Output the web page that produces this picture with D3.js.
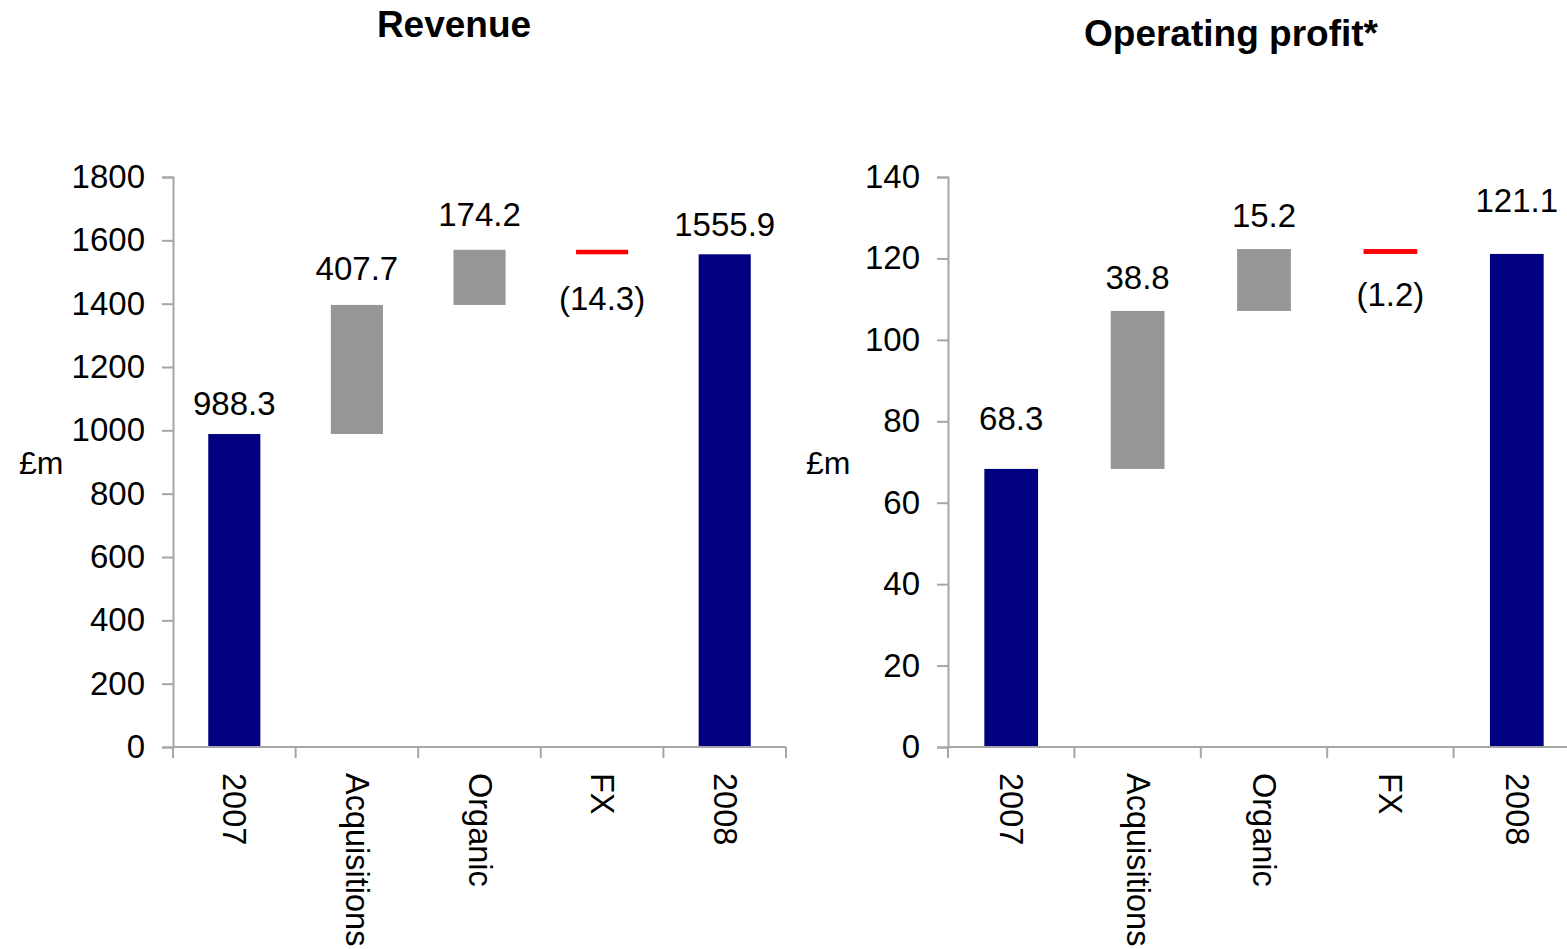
<!DOCTYPE html>
<html>
<head>
<meta charset="utf-8">
<script src="https://cdn.jsdelivr.net/npm/d3@7"></script>
<style>
  html, body { margin: 0; padding: 0; background: #fff; }
  svg { display: block; }
  text { font-family: Arial, "Liberation Sans", Helvetica, sans-serif; fill: #000; }
</style>
</head>
<body>
<svg id="chart" width="1567" height="949"></svg>
<script>
// Bridge categories shared by both panels
const categories = ["2007", "Acquisitions", "Organic", "FX", "2008"];
// "total" bars start at zero, "change" bars float on the running total
const barKinds = ["total", "change", "change", "change", "total"];

// Revenue bridge, £m
const revenueValues = [988.3, 407.7, 174.2, -14.3, 1555.9];
const revenueTicks = [0, 200, 400, 600, 800, 1000, 1200, 1400, 1600, 1800];

// Operating profit bridge, £m
const profitValues = [68.3, 38.8, 15.2, -1.2, 121.1];
const profitTicks = [0, 20, 40, 60, 80, 100, 120, 140];

const svg = d3.select("#chart");
const COLORS = { total: "#000080", up: "#969696", down: "#ff0000", axis: "#a6a6a6" };

function fmt(v) {
  const s = Math.abs(v).toFixed(1);
  return v < 0 ? "(" + s + ")" : s;
}

function drawBridge(opts) {
  const g = svg.append("g");
  const x = d3.scaleBand().domain(categories).range([opts.x0, opts.x1]).padding(0);
  const y = d3.scaleLinear().domain([0, d3.max(opts.ticks)]).range([747, 177]);

  // build floating segments from the running total
  let running = 0;
  const bars = categories.map((c, i) => {
    const v = opts.values[i];
    let lo, hi, kind;
    if (barKinds[i] === "total") {
      lo = 0; hi = v; running = v; kind = "total";
    } else {
      const start = running;
      running = start + v;
      lo = Math.min(start, running); hi = Math.max(start, running);
      kind = v >= 0 ? "up" : "down";
    }
    return { c, v, lo, hi, kind, i };
  });

  // title
  g.append("text")
    .attr("x", opts.titleX).attr("y", opts.titleY)
    .attr("text-anchor", "middle")
    .style("font-size", "37px").style("font-weight", "bold")
    .text(opts.title);

  // bars
  const bw = x.bandwidth() * 0.425;
  g.selectAll("rect.bar").data(bars).enter().append("rect")
    .attr("class", "bar")
    .attr("x", d => x(d.c) + (x.bandwidth() - bw) / 2)
    .attr("width", bw)
    .attr("y", d => y(d.hi))
    .attr("height", d => y(d.lo) - y(d.hi))
    .attr("fill", d => COLORS[d.kind]);

  // value labels: above the bar, or below it for a decrease
  g.selectAll("text.val").data(bars).enter().append("text")
    .attr("class", "val")
    .attr("x", d => x(d.c) + x.bandwidth() / 2)
    .attr("y", d => d.kind === "down" ? y(d.lo) + opts.labelGap[d.i] : y(d.hi) - opts.labelGap[d.i])
    .attr("text-anchor", "middle")
    .style("font-size", "33px")
    .text(d => fmt(d.v));

  // y axis
  const yAxis = d3.axisLeft(y).tickValues(opts.ticks).tickSize(11).tickPadding(17).tickFormat(d3.format("d"));
  const ya = g.append("g").attr("transform", `translate(${opts.x0},0)`).call(yAxis);
  ya.select(".domain").attr("stroke", COLORS.axis).attr("stroke-width", 2);
  ya.selectAll(".tick line").attr("stroke", COLORS.axis).attr("stroke-width", 2);
  ya.selectAll(".tick text").style("font-size", "33px").attr("fill", "#000")
    .style("font-family", "Arial, 'Liberation Sans', sans-serif");

  // x axis with ticks at category boundaries
  const xa = g.append("g");
  xa.append("line")
    .attr("x1", opts.x0).attr("x2", opts.x1).attr("y1", y(0)).attr("y2", y(0))
    .attr("stroke", COLORS.axis).attr("stroke-width", 2);
  const bounds = categories.map(c => x(c)).concat([x.range()[1]]);
  xa.selectAll("line.tk").data(bounds).enter().append("line")
    .attr("class", "tk")
    .attr("x1", d => d).attr("x2", d => d)
    .attr("y1", y(0)).attr("y2", y(0) + 11)
    .attr("stroke", COLORS.axis).attr("stroke-width", 2);
  xa.selectAll("text.cat").data(categories).enter().append("text")
    .attr("class", "cat")
    .attr("transform", c => `translate(${x(c) + x.bandwidth() / 2},773) rotate(90)`)
    .attr("dominant-baseline", "central")
    .style("font-size", "32.5px")
    .text(c => c);

  // unit label
  g.append("text")
    .attr("x", opts.unitX).attr("y", 463)
    .attr("dominant-baseline", "central")
    .style("font-size", "32px")
    .text("£m");
}

drawBridge({
  title: "Revenue", titleX: 454, titleY: 37,
  values: revenueValues, ticks: revenueTicks,
  x0: 173, x1: 786, unitX: 19,
  labelGap: [19, 25, 24, 56, 18]
});

drawBridge({
  title: "Operating profit*", titleX: 1231, titleY: 46,
  values: profitValues, ticks: profitTicks,
  x0: 948, x1: 1580, unitX: 806,
  labelGap: [39, 22, 22, 52, 42]
});
</script>
</body>
</html>
